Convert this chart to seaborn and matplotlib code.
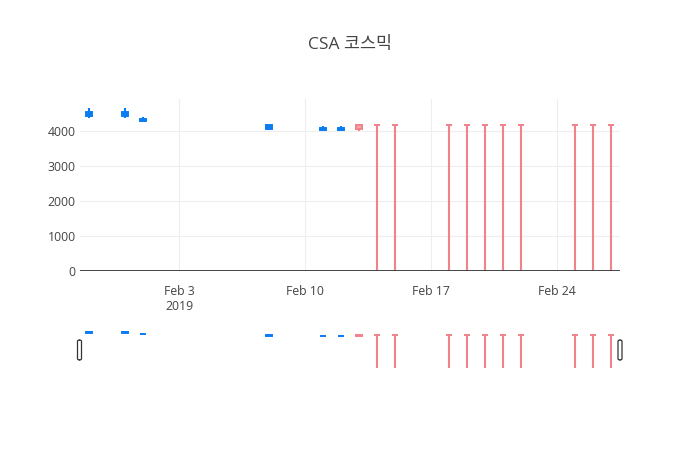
import matplotlib
matplotlib.use("Agg")
import matplotlib.pyplot as plt
import matplotlib.dates as mdates
from matplotlib.patches import FancyBboxPatch
import seaborn as sns
import pandas as pd

# ---- data ----
dates = ["2019-01-29", "2019-01-31", "2019-02-01", "2019-02-08", "2019-02-11",
         "2019-02-12", "2019-02-13", "2019-02-14", "2019-02-15", "2019-02-18",
         "2019-02-19", "2019-02-20", "2019-02-21", "2019-02-22", "2019-02-25",
         "2019-02-26", "2019-02-27"]
open_ = [4545, 4545, 4335, 4160, 4080, 4080, 4050, 4170, 4170, 4170,
         4170, 4170, 4170, 4170, 4170, 4170, 4170]
high = [4650, 4650, 4400, 4170, 4130, 4130, 4170, 4170, 4170, 4170,
        4170, 4170, 4170, 4170, 4170, 4170, 4170]
low = [4370, 4370, 4285, 4045, 4025, 4025, 3990, 0, 0, 0,
       0, 0, 0, 0, 0, 0, 0]
close = [4430, 4430, 4290, 4050, 4030, 4030, 4160, 4170, 4170, 4170,
         4170, 4170, 4170, 4170, 4170, 4170, 4170]
title = "CSA 코스믹"
xticks = ["2019-02-03", "2019-02-10", "2019-02-17", "2019-02-24"]
xticklabels = ["Feb 3\n2019", "Feb 10", "Feb 17", "Feb 24"]
yticks = [0, 1000, 2000, 3000, 4000]

df = pd.DataFrame({"date": pd.to_datetime(dates), "open": open_, "high": high,
                   "low": low, "close": close})

sns.set_theme(style="white")
plt.rcParams["font.family"] = ["Open Sans", "Noto Sans CJK KR", "DejaVu Sans"]

UP = "#F0828A"
UP_FILL = "#F6A5AB"
DOWN = "#0A7CF2"
TXT = "#444444"

fig = plt.figure(figsize=(7, 4.5), dpi=100)
W, H = 700, 450


def px_axes(x0, y0, x1, y1):
    return fig.add_axes([x0 / W, 1 - y1 / H, (x1 - x0) / W, (y1 - y0) / H])


ax = px_axes(80, 99, 620, 271)
sl = px_axes(80, 331, 620, 368)

xmin = pd.Timestamp("2019-01-28 12:00")
xmax = pd.Timestamp("2019-02-27 12:00")


def draw(a):
    up = df["close"] >= df["open"]
    for mask, line, fill in [(up, UP, UP_FILL), (~up, DOWN, DOWN)]:
        d = df[mask]
        a.vlines(d["date"], d["low"], d["high"], color=line, lw=1.5, zorder=3)
        bottom = d[["open", "close"]].min(axis=1)
        height = (d["open"] - d["close"]).abs()
        a.bar(d["date"], height, bottom=bottom, width=0.38, color=fill,
              edgecolor=line, linewidth=1.4, zorder=4)


draw(ax)
draw(sl)

ax.set_xlim(xmin, xmax)
ax.set_ylim(0, 4910)
ax.set_xticks(pd.to_datetime(xticks))
ax.set_xticklabels(xticklabels, fontsize=8.8, color=TXT, linespacing=1.25)
ax.set_yticks(yticks)
ax.set_yticklabels([str(v) for v in yticks], fontsize=8.8, color=TXT)
ax.tick_params(axis="both", length=0)
ax.tick_params(axis="x", pad=10)
ax.tick_params(axis="y", pad=3)
ax.grid(True, color="#eeeeee", lw=0.8, zorder=0)
for s in ax.spines.values():
    s.set_visible(False)
ax.axhline(0, color=TXT, lw=1.4, zorder=5)
ax.set_axisbelow(True)

sl.set_xlim(xmin, xmax)
sl.set_ylim(0, 4650)
sl.set_xticks([])
sl.set_yticks([])
for s in sl.spines.values():
    s.set_visible(False)
sl.patch.set_alpha(0)

for x0 in (77.5, 618):
    fig.patches.append(FancyBboxPatch((x0 / W, 1 - 360 / H), 4 / W, 20 / H,
                                      boxstyle="round,pad=0,rounding_size=0.003",
                                      transform=fig.transFigure, facecolor="white",
                                      edgecolor="#333333", lw=0.9))

fig.text(0.5, 1 - 45 / H, title, ha="center", va="center", fontsize=12.5,
         color=TXT, family=["Open Sans", "Noto Sans CJK KR", "DejaVu Sans"])

fig.savefig("out.png", dpi=100)
